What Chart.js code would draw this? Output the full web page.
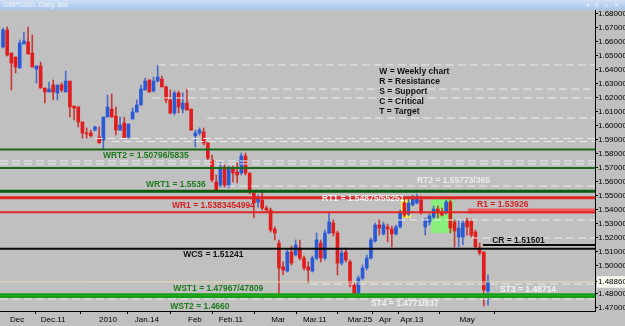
<!DOCTYPE html>
<html><head><meta charset="utf-8">
<script src="https://cdn.jsdelivr.net/npm/chart.js@4/dist/chart.umd.min.js"></script>
<style>
html,body{margin:0;padding:0;background:#c0c0c0;overflow:hidden;width:625px;height:326px;}
#bar{position:absolute;left:0;top:0;width:625px;height:10px;background:linear-gradient(#cfe0f6,#a6c4ea);font:7px "Liberation Sans",Arial,sans-serif;color:#eef4fc;line-height:10px;}
#bar .t{position:absolute;left:3px;top:0;}
#bar .b{position:absolute;right:4px;top:0;letter-spacing:2px;font-family:"DejaVu Sans";font-size:6px;}
#wrap{position:absolute;left:0;top:10px;width:625px;height:316px;}
</style></head><body>
<div id="bar"><span class="t">GBP/USD, Daily, Bid</span><span class="b">▾ ‡ ▫ ✕</span></div>
<div id="wrap"><canvas id="c" width="625" height="316"></canvas></div>
<script>
// ---- candle data (daily GBP/USD) ----
const opens = [1.6564,1.6686,1.6521,1.6493,1.6414,1.6586,1.6600,1.6521,1.6407,1.6429,
1.6271,1.6243,1.6293,1.6236,1.6293,1.6243,1.6321,1.6143,1.6136,1.6029,
1.5950,1.5950,1.5971,1.5921,1.5900,1.6064,1.6121,1.6071,1.5971,1.6021,
1.5921,1.6050,1.6100,1.6150,1.6257,1.6329,1.6250,1.6321,1.6336,1.6279,
1.6186,1.6093,1.6236,1.6121,1.6164,1.6121,1.5929,1.5950,1.5957,1.5879,
1.5757,1.5600,1.5579,1.5707,1.5571,1.5700,1.5671,1.5664,1.5786,1.5664,
1.5521,1.5457,1.5471,1.5414,1.5400,1.5264,1.5164,1.4993,1.4964,1.5100,
1.5079,1.5129,1.5057,1.4993,1.4964,1.5057,1.5164,1.5057,1.5236,1.5307,
1.5236,1.5021,1.5100,1.5029,1.4864,1.4807,1.4914,1.4986,1.5057,1.5179,
1.5293,1.5229,1.5279,1.5264,1.5229,1.5279,1.5450,1.5371,1.5436,1.5450,
1.5471,1.5279,1.5314,1.5350,1.5407,1.5386,1.5379,1.5457,1.5314,1.5207,
1.5207,1.5321,1.5321,1.5243,1.5129,1.5100,1.4821];
const highs = [1.6700,1.6707,1.6521,1.6493,1.6614,1.6671,1.6707,1.6650,1.6429,1.6457,
1.6271,1.6314,1.6329,1.6293,1.6307,1.6393,1.6321,1.6143,1.6136,1.6029,
1.5986,1.5971,1.6000,1.5993,1.6064,1.6221,1.6229,1.6136,1.6064,1.6064,
1.6014,1.6129,1.6186,1.6293,1.6343,1.6329,1.6350,1.6436,1.6357,1.6286,
1.6257,1.6250,1.6250,1.6236,1.6264,1.6121,1.5971,1.5986,1.5986,1.5879,
1.5793,1.5650,1.5743,1.5721,1.5714,1.5714,1.5736,1.5807,1.5807,1.5664,
1.5536,1.5507,1.5529,1.5429,1.5414,1.5279,1.5186,1.5029,1.5114,1.5143,
1.5186,1.5186,1.5071,1.5029,1.5071,1.5236,1.5186,1.5257,1.5379,1.5329,
1.5250,1.5129,1.5129,1.5043,1.4879,1.4929,1.5007,1.5079,1.5200,1.5307,
1.5329,1.5314,1.5300,1.5286,1.5293,1.5400,1.5479,1.5493,1.5507,1.5514,
1.5500,1.5343,1.5371,1.5429,1.5429,1.5414,1.5471,1.5471,1.5329,1.5329,
1.5329,1.5343,1.5336,1.5257,1.5164,1.5100,1.4936];
const lows = [1.6557,1.6500,1.6257,1.6379,1.6414,1.6586,1.6514,1.6421,1.6307,1.6271,
1.6164,1.6243,1.6186,1.6186,1.6243,1.6243,1.6064,1.6043,1.5993,1.5914,
1.5914,1.5921,1.5964,1.5879,1.5829,1.6064,1.6064,1.5936,1.5971,1.5914,
1.5914,1.6050,1.6100,1.6150,1.6257,1.6243,1.6243,1.6314,1.6279,1.6164,
1.6086,1.6079,1.6093,1.6093,1.6114,1.5971,1.5850,1.5936,1.5864,1.5757,
1.5600,1.5529,1.5564,1.5564,1.5557,1.5600,1.5593,1.5650,1.5650,1.5514,
1.5343,1.5421,1.5400,1.5386,1.5243,1.5186,1.4786,1.4936,1.4957,1.5007,
1.5071,1.5043,1.4971,1.4879,1.4957,1.5043,1.5029,1.5043,1.5229,1.5214,
1.4936,1.5007,1.5029,1.4850,1.4800,1.4800,1.4900,1.4971,1.5050,1.5171,
1.5221,1.5221,1.5171,1.5136,1.5221,1.5271,1.5350,1.5357,1.5429,1.5443,
1.5371,1.5221,1.5293,1.5336,1.5343,1.5357,1.5371,1.5236,1.5136,1.5136,
1.5150,1.5221,1.5200,1.5121,1.5079,1.4714,1.4721];
const closes = [1.6686,1.6507,1.6450,1.6421,1.6593,1.6607,1.6514,1.6421,1.6429,1.6271,
1.6243,1.6264,1.6243,1.6293,1.6257,1.6321,1.6136,1.6129,1.6029,1.5950,
1.5943,1.5929,1.5993,1.5879,1.6064,1.6136,1.6064,1.5971,1.6007,1.5914,
1.6014,1.6100,1.6150,1.6264,1.6321,1.6243,1.6321,1.6350,1.6279,1.6186,
1.6093,1.6236,1.6136,1.6164,1.6114,1.5971,1.5950,1.5971,1.5879,1.5771,
1.5614,1.5543,1.5707,1.5579,1.5700,1.5664,1.5650,1.5786,1.5664,1.5529,
1.5450,1.5479,1.5414,1.5400,1.5257,1.5236,1.4986,1.4971,1.5100,1.5021,
1.5150,1.5057,1.4986,1.4971,1.5057,1.5186,1.5057,1.5236,1.5314,1.5236,
1.5021,1.5093,1.5043,1.4864,1.4807,1.4914,1.4986,1.5057,1.5186,1.5293,
1.5271,1.5293,1.5264,1.5229,1.5279,1.5379,1.5364,1.5450,1.5486,1.5493,
1.5379,1.5329,1.5357,1.5407,1.5379,1.5364,1.5457,1.5271,1.5250,1.5271,
1.5307,1.5279,1.5221,1.5136,1.5093,1.4829,1.4886];

// ---- axis ticks ----
const xTickPos = [3.35, 12.0, 25.1, 34.4, 45.9, 54.5, 65.8, 74.6, 85.4, 91.4, 97.8, 111.0];
const xTickLabels = ['Dec','Dec.11','2010','Jan.14','Feb','Feb.11','Mar','Mar.11','Mar.25','Apr','Apr.13','May'];
const yTickValues = [1.68,1.67,1.66,1.65,1.64,1.63,1.62,1.61,1.60,1.59,1.58,1.57,1.56,1.55,1.54,1.53,1.52,1.51,1.50,1.48,1.47];
const bidPrice = 1.4886;

// ---- drawn levels (prices) and the bar index each starts from ----
const dashLevels = [1.6436,1.6264,1.6200,1.6057,1.5911,1.5889,1.5750,1.5729,1.5571,1.5329,1.5200,1.4871,1.4764];
const dashFrom   = [37,44,35.6,48.8,22,26,null,null,53.6,94.3,111.7,73.4,null];
const greenLevels = [1.5832,1.5700,1.5534];
const wst1Levels = [1.47967,1.47809];
const redLevels = [1.54875,1.53834];
const r1Level = 1.53926, r1From = 111.2;
const wcsLevel = 1.51241;
const crLevel = 1.51501, crFrom = 114.8;

// highlighted zones [fromIndex, toIndex, topPrice, bottomPrice]
const zoneYellow = [95.2, 97.6, 1.5486, 1.5343];
const zoneGreen = [102.4, 107.7, 1.5486, 1.5236];

const X_MIN = -0.72, X_MAX = 141.6, Y_MIN = 1.467857, Y_MAX = 1.682857;

const notes = [
  {t:'WRT2 = 1.50796/5835', x:23.9, y:1.5786, c:'#1f7a1f'},
  {t:'WRT1 = 1.5536', x:34.2, y:1.5579, c:'#1f7a1f'},
  {t:'WR1 = 1.5383454994', x:40.4, y:1.5429, c:'#d42222'},
  {t:'RT1 = 1.54875/55251', x:76.3, y:1.5479, c:'#f2f2f2'},
  {t:'RT2 = 1.55773/365', x:99.0, y:1.5607, c:'#ececec'},
  {t:'R1 = 1.53926', x:113.4, y:1.5436, c:'#d42222'},
  {t:'WCS = 1.51241', x:43.1, y:1.5079, c:'#111111'},
  {t:'CR = 1.51501', x:117.0, y:1.5179, c:'#111111'},
  {t:'WST1 = 1.47967/47809', x:40.7, y:1.4836, c:'#1f7a1f'},
  {t:'WST2 = 1.4660', x:40.0, y:1.4707, c:'#1f7a1f'},
  {t:'ST3 = 1.48714', x:118.9, y:1.4829, c:'#f2f2f2'},
  {t:'ST4 = 1.4771/837', x:88.0, y:1.4729, c:'#f2f2f2'},
  {t:'W = Weekly chart', x:90.0, y:1.6386, c:'#111111'},
  {t:'R = Resistance', x:90.0, y:1.6314, c:'#111111'},
  {t:'S = Support', x:90.0, y:1.6243, c:'#111111'},
  {t:'C = Critical', x:90.0, y:1.6171, c:'#111111'},
  {t:'T = Target', x:90.0, y:1.6100, c:'#111111'}
];

const UP = '#2a5ad6', DOWN = '#e01c1c', UPW = '#4a6cc8', DOWNW = '#c83a3a';
const idx = opens.map((_, i) => i);
const isUp = i => closes[i] >= opens[i];

function hline(price, from, color, width, dash) {
  return {type:'line', data:[{x: from == null ? X_MIN : from, y: price},{x: X_MAX, y: price}],
    borderColor: color, borderWidth: width, borderDash: dash || [], pointRadius: 0,
    order: 0, tension: 0, clip: false};
}

const datasets = [];
dashLevels.forEach((p, i) => datasets.push(hline(p, dashFrom[i], '#ececec', 1, [8,4])));
datasets.push(hline(bidPrice, null, '#e9dcae', 1));
datasets.push(hline(greenLevels[0], null, '#1a6a1a', 2));
datasets.push(hline(greenLevels[1], null, '#1a6a1a', 2));
datasets.push(hline(greenLevels[2], null, '#0e5a0e', 3));
wst1Levels.forEach(p => datasets.push(hline(p, null, '#14a014', 2.5)));
datasets.push(hline(redLevels[0], null, '#e02626', 3));
datasets.push(hline(redLevels[1], null, '#e02626', 2));
datasets.push(hline(r1Level, r1From, '#ee5a5a', 5));
datasets.push(hline(wcsLevel, null, '#0a0a0a', 2));
datasets.push(hline(crLevel, crFrom, '#0a0a0a', 2));

datasets.push({type:'bar', data: idx.map(i => ({x:i, y:[opens[i], closes[i]]})),
  backgroundColor: idx.map(i => isUp(i) ? UP : DOWN), barThickness: 3, minBarLength: 1,
  grouped: false, order: 2});
datasets.push({type:'bar', data: idx.map(i => ({x:i, y:[lows[i], highs[i]]})),
  backgroundColor: idx.map(i => isUp(i) ? UPW : DOWNW), barThickness: 1,
  grouped: false, order: 3});

const overlay = {
  id: 'overlay',
  beforeDatasetsDraw(chart) {
    const {ctx, scales:{x, y}} = chart;
    [[zoneYellow, '#f2ee4e'], [zoneGreen, '#88ee7c']].forEach(([z, col]) => {
      const x0 = x.getPixelForValue(z[0]), x1 = x.getPixelForValue(z[1]);
      const y0 = y.getPixelForValue(z[2]), y1 = y.getPixelForValue(z[3]);
      ctx.save(); ctx.fillStyle = col; ctx.fillRect(x0, y0, x1 - x0, y1 - y0); ctx.restore();
    });
  },
  afterDatasetsDraw(chart) {
    const {ctx, scales:{x, y}} = chart;
    ctx.save();
    ctx.font = 'bold 8.5px "Liberation Sans", Arial, sans-serif';
    ctx.textBaseline = 'middle'; ctx.textAlign = 'left';
    notes.forEach(n => { ctx.fillStyle = n.c; ctx.fillText(n.t, x.getPixelForValue(n.x), y.getPixelForValue(n.y)); });
    ctx.restore();
  }
};

new Chart(document.getElementById('c'), {
  type: 'bar',
  data: { datasets },
  options: {
    responsive: false, animation: false, events: [],
    layout: { padding: 0 },
    plugins: { legend: {display:false}, tooltip: {enabled:false}, title: {display:false} },
    scales: {
      x: {
        type: 'linear', min: X_MIN, max: X_MAX, offset: false,
        grid: { display: true, drawOnChartArea: false, drawTicks: true, tickLength: 3, color: '#000' },
        border: { display: true, color: '#000', width: 1 },
        ticks: { autoSkip: false, maxRotation: 0, padding: 1, color: '#000',
          font: { family: '"Liberation Sans", Arial, sans-serif', size: 8 },
          callback: (v, i) => xTickLabels[i] },
        afterBuildTicks: s => { s.ticks = xTickPos.map(v => ({value: v})); },
        afterFit: s => { s.height = 15; s.paddingLeft = 0; s.paddingRight = 0; }
      },
      y: {
        type: 'linear', position: 'right', min: Y_MIN, max: Y_MAX,
        grid: { display: true, drawOnChartArea: false, drawTicks: true, tickLength: 3, color: '#000' },
        border: { display: true, color: '#000', width: 1 },
        ticks: { autoSkip: false, padding: 0, color: '#000',
          font: { family: '"Liberation Sans", Arial, sans-serif', size: 8 },
          callback: v => v.toFixed(5),
          showLabelBackdrop: c => c.tick && Math.abs(c.tick.value - bidPrice) < 1e-6,
          backdropColor: '#f6f6ee', backdropPadding: {left: 1, right: 0, top: 1, bottom: 1} },
        afterBuildTicks: s => { s.ticks = yTickValues.concat([bidPrice]).map(v => ({value: v})); },
        afterFit: s => { s.width = 30; s.paddingTop = 0; s.paddingBottom = 0; }
      }
    }
  },
  plugins: [overlay]
});
</script>
</body></html>
